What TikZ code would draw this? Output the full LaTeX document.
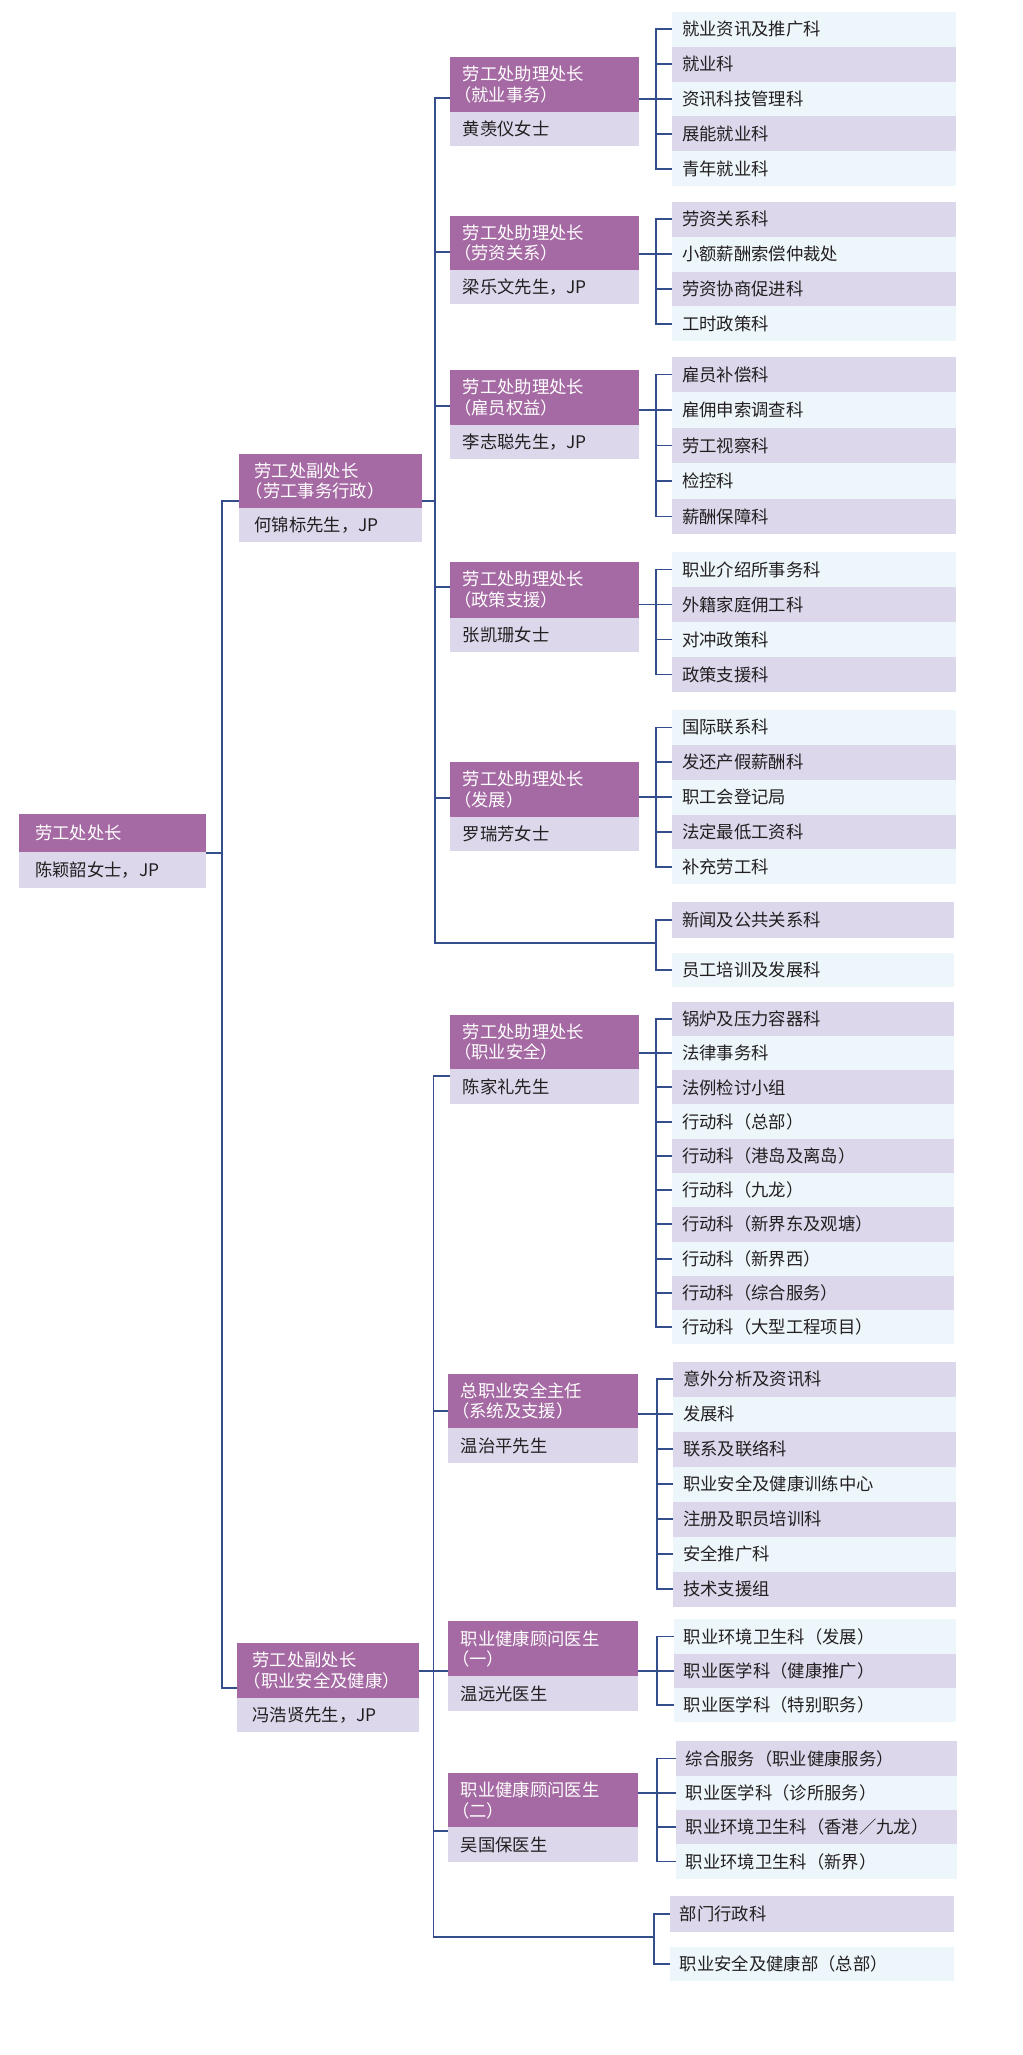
\documentclass[tikz,border=0pt]{standalone}
\usepackage{fontspec}
\setmainfont{Noto Sans CJK SC}
\newfontfamily\haltfont{Noto Sans CJK SC}[RawFeature=+halt]
\definecolor{dpur}{RGB}{165,106,163}
\definecolor{lav}{RGB}{221,215,235}
\definecolor{lbl}{RGB}{237,246,251}
\definecolor{navy}{RGB}{52,78,140}
\definecolor{txt}{RGB}{35,31,32}
\newcommand\op{{\haltfont （}}
\newcommand\lff{\fontsize{13pt}{15.4pt}\selectfont}
\tikzset{
 conn/.style={draw=navy,line width=1.4pt},
 leaf/.style={anchor=north west,inner xsep=7.5pt,inner ysep=0pt,outer sep=0pt,align=left,text=txt,font=\lff},
 mtitle/.style={anchor=north west,fill=dpur,inner ysep=0pt,outer sep=0pt,align=left,text=white,font=\lff},
 mname/.style={anchor=north west,fill=lav,inner ysep=0pt,outer sep=0pt,align=left,text=txt,font=\lff},
}
% leaf box: name, x1, x2, ytop, height, fill, text
\newcommand\lf[7]{%
 \pgfmathsetmacro\qw{(#3-#2)*0.75}%
 \pgfmathsetmacro\qh{#5*0.75}%
 \pgfmathsetmacro\qt{(#3-#2)*0.75-15}%
 \node[leaf,fill=#6,minimum width=\qw pt,minimum height=\qh pt,text width=\qt pt] (#1) at (#2,#4) {#7};}
% manager box: name, x1, x2, ytop, ymid, ybot, title, person
\newcommand\mpad{9.75}
\newcommand\mgrbox[8]{%
 \pgfmathsetmacro\qw{(#3-#2)*0.75}%
 \pgfmathsetmacro\qht{(#5-#4)*0.75}%
 \pgfmathsetmacro\qhn{(#6-#5)*0.75}%
 \pgfmathsetmacro\qt{(#3-#2)*0.75-2*\mpad}%
 \node[mtitle,minimum width=\qw pt,minimum height=\qht pt,text width=\qt pt,inner xsep=\mpad pt] (#1t) at (#2,#4) {#7};
 \node[mname,minimum width=\qw pt,minimum height=\qhn pt,text width=\qt pt,inner xsep=\mpad pt] (#1n) at (#2,#5) {#8};}
\begin{document}
\begin{tikzpicture}[x=0.75pt,y=-0.75pt]
\fill[white] (0,0) rectangle (1022,2055);
\path[use as bounding box] (0,0) rectangle (1022,2055);

% ---------- level 1 ----------
\renewcommand\mpad{12}
\mgrbox{A}{19.3}{206.3}{814}{852.3}{888.3}{劳工处处长}{陈颖韶女士，JP}
% ---------- level 2 ----------
\renewcommand\mpad{11.5}
\mgrbox{C1}{239}{422}{453.7}{508}{542.3}{劳工处副处长\\\op 劳工事务行政）}{何锦标先生，JP}
\mgrbox{C2}{237.3}{419.2}{1643}{1697.6}{1731.7}{劳工处副处长\\\op 职业安全及健康）}{冯浩贤先生，JP}
% ---------- level 3 ----------
\renewcommand\mpad{9.75}
\mgrbox{B1}{449.7}{639}{57.3}{111.7}{146}{劳工处助理处长\\\op 就业事务）}{黄羡仪女士}
\mgrbox{B2}{449.7}{639}{215.7}{270}{304.3}{劳工处助理处长\\\op 劳资关系）}{梁乐文先生，JP}
\mgrbox{B3}{449.7}{639}{370}{424.7}{459.3}{劳工处助理处长\\\op 雇员权益）}{李志聪先生，JP}
\mgrbox{B4}{449.7}{639}{561.7}{617.7}{652}{劳工处助理处长\\\op 政策支援）}{张凯珊女士}
\mgrbox{B5}{449.7}{639}{762.3}{816.7}{851}{劳工处助理处长\\\op 发展）}{罗瑞芳女士}
\mgrbox{B6}{449.7}{639}{1015}{1069.3}{1104}{劳工处助理处长\\\op 职业安全）}{陈家礼先生}
\mgrbox{B7}{447.8}{637.5}{1374}{1428.3}{1462.7}{总职业安全主任\\\op 系统及支援）}{温治平先生}
\mgrbox{B8}{447.8}{637.5}{1621.3}{1676.3}{1710.5}{职业健康顾问医生\\\op 一）}{温远光医生}
\mgrbox{B9}{447.8}{637.5}{1773}{1827.4}{1861.5}{职业健康顾问医生\\\op 二）}{吴国保医生}

% ---------- level 4 ----------
\lf{g1a}{672}{956}{12}{34.8}{lbl}{就业资讯及推广科}
\lf{g1b}{672}{956}{46.8}{34.8}{lav}{就业科}
\lf{g1c}{672}{956}{81.6}{34.8}{lbl}{资讯科技管理科}
\lf{g1d}{672}{956}{116.4}{34.8}{lav}{展能就业科}
\lf{g1e}{672}{956}{151.2}{34.8}{lbl}{青年就业科}

\lf{g2a}{672}{956}{202}{34.83}{lav}{劳资关系科}
\lf{g2b}{672}{956}{236.83}{34.83}{lbl}{小额薪酬索偿仲裁处}
\lf{g2c}{672}{956}{271.66}{34.83}{lav}{劳资协商促进科}
\lf{g2d}{672}{956}{306.49}{34.83}{lbl}{工时政策科}

\lf{g3a}{672}{956}{356.7}{35.52}{lav}{雇员补偿科}
\lf{g3b}{672}{956}{392.22}{35.52}{lbl}{雇佣申索调查科}
\lf{g3c}{672}{956}{427.74}{35.52}{lav}{劳工视察科}
\lf{g3d}{672}{956}{463.26}{35.52}{lbl}{检控科}
\lf{g3e}{672}{956}{498.78}{35.52}{lav}{薪酬保障科}

\lf{g4a}{672}{956}{552}{35}{lbl}{职业介绍所事务科}
\lf{g4b}{672}{956}{587}{35}{lav}{外籍家庭佣工科}
\lf{g4c}{672}{956}{622}{35}{lbl}{对冲政策科}
\lf{g4d}{672}{956}{657}{35}{lav}{政策支援科}

\lf{g5a}{672}{956}{710}{34.86}{lbl}{国际联系科}
\lf{g5b}{672}{956}{744.86}{34.86}{lav}{发还产假薪酬科}
\lf{g5c}{672}{956}{779.72}{34.86}{lbl}{职工会登记局}
\lf{g5d}{672}{956}{814.58}{34.86}{lav}{法定最低工资科}
\lf{g5e}{672}{956}{849.44}{34.86}{lbl}{补充劳工科}

\lf{s1a}{672}{954}{902}{35.7}{lav}{新闻及公共关系科}
\lf{s1b}{672}{954}{952.7}{34}{lbl}{员工培训及发展科}

\lf{g6a}{672}{954}{1001.7}{34.26}{lav}{锅炉及压力容器科}
\lf{g6b}{672}{954}{1035.96}{34.26}{lbl}{法律事务科}
\lf{g6c}{672}{954}{1070.22}{34.26}{lav}{法例检讨小组}
\lf{g6d}{672}{954}{1104.48}{34.26}{lbl}{行动科（总部）}
\lf{g6e}{672}{954}{1138.74}{34.26}{lav}{行动科（港岛及离岛）}
\lf{g6f}{672}{954}{1173.0}{34.26}{lbl}{行动科（九龙）}
\lf{g6g}{672}{954}{1207.26}{34.26}{lav}{行动科（新界东及观塘）}
\lf{g6h}{672}{954}{1241.52}{34.26}{lbl}{行动科（新界西）}
\lf{g6i}{672}{954}{1275.78}{34.26}{lav}{行动科（综合服务）}
\lf{g6j}{672}{954}{1310.04}{34.26}{lbl}{行动科（大型工程项目）}

\lf{g7a}{673}{955.7}{1361.7}{35}{lav}{意外分析及资讯科}
\lf{g7b}{673}{955.7}{1396.7}{35}{lbl}{发展科}
\lf{g7c}{673}{955.7}{1431.7}{35}{lav}{联系及联络科}
\lf{g7d}{673}{955.7}{1466.7}{35}{lbl}{职业安全及健康训练中心}
\lf{g7e}{673}{955.7}{1501.7}{35}{lav}{注册及职员培训科}
\lf{g7f}{673}{955.7}{1536.7}{35}{lbl}{安全推广科}
\lf{g7g}{673}{955.7}{1571.7}{35}{lav}{技术支援组}

\lf{g8a}{673.7}{955.7}{1619.3}{34.23}{lbl}{职业环境卫生科（发展）}
\lf{g8b}{673.7}{955.7}{1653.53}{34.23}{lav}{职业医学科（健康推广）}
\lf{g8c}{673.7}{955.7}{1687.76}{34.23}{lbl}{职业医学科（特别职务）}

\lf{g9a}{675.7}{957.3}{1741.3}{34.35}{lav}{综合服务（职业健康服务）}
\lf{g9b}{675.7}{957.3}{1775.65}{34.35}{lbl}{职业医学科（诊所服务）}
\lf{g9c}{675.7}{957.3}{1810.0}{34.35}{lav}{职业环境卫生科（香港／九龙）}
\lf{g9d}{675.7}{957.3}{1844.35}{34.35}{lbl}{职业环境卫生科（新界）}

\lf{s2a}{669.7}{954.3}{1896.3}{35.4}{lav}{部门行政科}
\lf{s2b}{669.7}{954.3}{1947}{33.7}{lbl}{职业安全及健康部（总部）}

% ---------- junction coordinates ----------
\coordinate (v1) at (656,0);
\coordinate (v2) at (656,0);
\coordinate (v3) at (656,0);
\coordinate (v4) at (656,0);
\coordinate (v5) at (656,0);
\coordinate (vs1) at (655.7,0);
\coordinate (v6) at (655.7,0);
\coordinate (v7) at (657.3,0);
\coordinate (v8) at (657.3,0);
\coordinate (v9) at (657.3,0);
\coordinate (vs2) at (654,0);

\coordinate (l1) at (434.8,98.2);
\coordinate (l2) at (434.8,252);
\coordinate (l3) at (434.8,406.4);
\coordinate (l4) at (434.8,587);
\coordinate (l5) at (434.8,798);
\coordinate (j1) at (434.8,943.3);
\coordinate (c1r) at (434.8,501);
\coordinate (l6) at (433.5,1076);
\coordinate (l7) at (433.5,1410.7);
\coordinate (l8) at (433.5,1671.4);
\coordinate (l9) at (433.5,1831);
\coordinate (j2) at (433.5,1937);
\coordinate (k0) at (222,853.3);
\coordinate (k1) at (222,501);
\coordinate (k2) at (222,1687.7);

% ---------- connectors: level 1-2 ----------
\draw[conn] (k0 -| At.east) -- (k0);
\draw[conn] (k1 -| C1t.west) -- (k1) -- (k2) -- (k2 -| C2t.west);
\draw[conn] (c1r -| C1t.east) -- (c1r);
\draw[conn] (l8 -| C2t.east) -- (l8 -| B8t.west);

% ---------- connectors: level 2-3 ----------
\draw[conn] (l1 -| B1t.west) -- (l1) -- (j1) -- (j1 -| vs1);
\draw[conn] (l2) -- (l2 -| B2t.west);
\draw[conn] (l3) -- (l3 -| B3t.west);
\draw[conn] (l4) -- (l4 -| B4t.west);
\draw[conn] (l5) -- (l5 -| B5t.west);
\draw[conn] (l6 -| B6t.west) -- (l6) -- (j2) -- (j2 -| vs2);
\draw[conn] (l7) -- (l7 -| B7t.west);
\draw[conn] (l9) -- (l9 -| B9t.west);

% ---------- connectors: level 3-4 ----------
\draw[conn] (g1a.west) -- (g1a.west -| v1) -- (g1e.west -| v1) -- (g1e.west);
\foreach \n in {g1b,g1c,g1d} \draw[conn] (\n.west) -- (\n.west -| v1);
\draw[conn] (B1t.east |- g1c.west) -- (g1c.west -| v1);

\draw[conn] (g2a.west) -- (g2a.west -| v2) -- (g2d.west -| v2) -- (g2d.west);
\foreach \n in {g2b,g2c} \draw[conn] (\n.west) -- (\n.west -| v2);
\draw[conn] (B2t.east |- g2b.west) -- (g2b.west -| v2);

\draw[conn] (g3a.west) -- (g3a.west -| v3) -- (g3e.west -| v3) -- (g3e.west);
\foreach \n in {g3b,g3c,g3d} \draw[conn] (\n.west) -- (\n.west -| v3);
\draw[conn] (B3t.east |- g3b.west) -- (g3b.west -| v3);

\draw[conn] (g4a.west) -- (g4a.west -| v4) -- (g4d.west -| v4) -- (g4d.west);
\foreach \n in {g4b,g4c} \draw[conn] (\n.west) -- (\n.west -| v4);
\draw[conn] (B4t.east |- g4b.west) -- (g4b.west -| v4);

\draw[conn] (g5a.west) -- (g5a.west -| v5) -- (g5e.west -| v5) -- (g5e.west);
\foreach \n in {g5b,g5c,g5d} \draw[conn] (\n.west) -- (\n.west -| v5);
\draw[conn] (B5t.east |- g5c.west) -- (g5c.west -| v5);

\draw[conn] (s1a.west) -- (s1a.west -| vs1) -- (s1b.west -| vs1) -- (s1b.west);

\draw[conn] (g6a.west) -- (g6a.west -| v6) -- (g6j.west -| v6) -- (g6j.west);
\foreach \n in {g6b,g6c,g6d,g6e,g6f,g6g,g6h,g6i} \draw[conn] (\n.west) -- (\n.west -| v6);
\draw[conn] (B6t.east |- g6b.west) -- (g6b.west -| v6);

\draw[conn] (g7a.west) -- (g7a.west -| v7) -- (g7g.west -| v7) -- (g7g.west);
\foreach \n in {g7b,g7c,g7d,g7e,g7f} \draw[conn] (\n.west) -- (\n.west -| v7);
\draw[conn] (B7t.east |- g7b.west) -- (g7b.west -| v7);

\draw[conn] (g8a.west) -- (g8a.west -| v8) -- (g8c.west -| v8) -- (g8c.west);
\draw[conn] (g8b.west) -- (g8b.west -| v8);
\draw[conn] (B8t.east |- g8b.west) -- (g8b.west -| v8);

\draw[conn] (g9a.west) -- (g9a.west -| v9) -- (g9d.west -| v9) -- (g9d.west);
\foreach \n in {g9b,g9c} \draw[conn] (\n.west) -- (\n.west -| v9);
\draw[conn] (B9t.east |- g9b.west) -- (g9b.west -| v9);

\draw[conn] (s2a.west) -- (s2a.west -| vs2) -- (s2b.west -| vs2) -- (s2b.west);
\end{tikzpicture}
\end{document}
